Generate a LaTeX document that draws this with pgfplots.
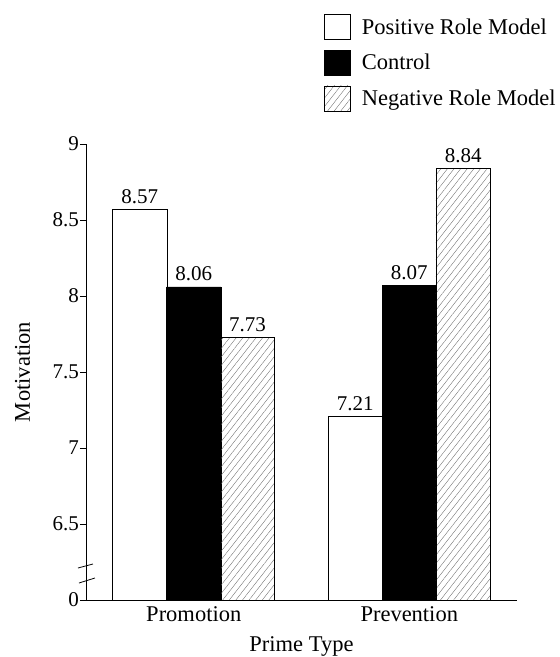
\documentclass[border=0pt]{standalone}
\usepackage{fontspec}
\setmainfont{Liberation Serif}
\usepackage{pgfplots}
\pgfplotsset{compat=1.18}
\usetikzlibrary{patterns.meta}

\begin{document}
\begin{tikzpicture}
\path[use as bounding box] (-86pt,-57pt) rectangle (474pt,600pt);
\begin{axis}[
  width=431pt, height=456pt, scale only axis,
  xmin=-0.5, xmax=1.5, ymin=6, ymax=9,
  axis x line*=bottom, axis y line*=left,
  axis line style={line width=0.8pt},
  ybar, bar width=0.252,
  xtick={0,1}, xticklabels={Promotion,Prevention},
  x tick style={draw=none},
  xticklabel style={anchor=base, yshift=-15pt, font=\fontsize{22.5}{26}\selectfont},
  ytick={6,6.5,7,7.5,8,8.5,9}, yticklabels={0,6.5,7,7.5,8,8.5,9},
  y tick style={black, line width=0.6pt},
  tick align=outside, major tick length=6pt,
  yticklabel style={font=\fontsize{21}{25}\selectfont, inner sep=1pt},
  /pgf/number format/assume math mode=true,
  xlabel={Prime Type},
  xlabel style={at={(axis description cs:0.5,-0.114)}, anchor=base, font=\fontsize{22.5}{26}\selectfont},
  ylabel={Motivation},
  ylabel style={at={(axis description cs:-0.147,0.5)}, anchor=center, font=\fontsize{22.5}{26}\selectfont},
  nodes near coords,
  every node near coord/.append style={anchor=base, yshift=6pt, font=\fontsize{21}{25}\selectfont, black},
  legend style={draw=none, fill=none, inner sep=0pt, at={(0.552,1.285)}, anchor=north west,
    row sep=10pt, column sep=9pt, font=\fontsize{22.5}{26}\selectfont},
  legend cell align=left,
  legend image code/.code={\draw[#1] (0pt,-12.5pt) rectangle (26pt,12.5pt);},
]
\addplot[draw=black, line width=0.7pt, fill=white, bar shift=-0.25] coordinates {(0,8.57) (1,7.21)};
\addlegendentry{Positive Role Model}
\addplot[draw=black, line width=0.7pt, fill=black, bar shift=0] coordinates {(0,8.06) (1,8.07)};
\addlegendentry{Control}
\addplot[draw=black, line width=0.7pt, pattern={Lines[angle=52, distance=5.2pt, line width=0.35pt]}, pattern color=black!60, bar shift=0.25] coordinates {(0,7.73) (1,8.84)};
\addlegendentry{Negative Role Model}
\end{axis}
% axis break marks
\draw[line width=0.8pt] (-8pt,32pt) -- (7pt,36pt);
\draw[line width=0.8pt] (-7pt,17pt) -- (9pt,22pt);
\end{tikzpicture}
\end{document}
